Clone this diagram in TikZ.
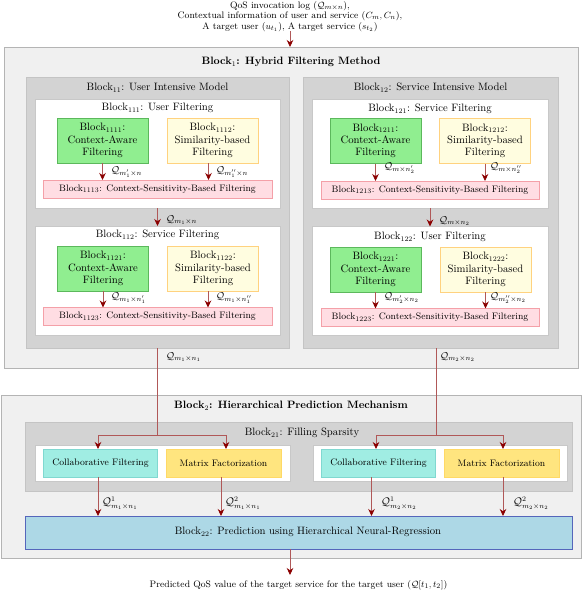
\documentclass[tikz,border=0pt]{standalone}
\usetikzlibrary{arrows.meta}
\definecolor{outerfill}{HTML}{F0F0F0}
\definecolor{outerdraw}{HTML}{B4B4B4}
\definecolor{midfill}{HTML}{D3D3D3}
\definecolor{middraw}{HTML}{C4C4C4}
\definecolor{innerdraw}{HTML}{C8C8C8}
\definecolor{greenfill}{HTML}{90EE90}
\definecolor{greendraw}{HTML}{5CB85C}
\definecolor{yelfill}{HTML}{FFFDE0}
\definecolor{yeldraw}{HTML}{FFD27F}
\definecolor{pinkfill}{HTML}{FFDDE3}
\definecolor{pinkdraw}{HTML}{F4A0A8}
\definecolor{cyanfill}{HTML}{A0EDE3}
\definecolor{cyandraw}{HTML}{80D8D0}
\definecolor{mffill}{HTML}{FFE57F}
\definecolor{mfdraw}{HTML}{FFD966}
\definecolor{predfill}{HTML}{ADD8E6}
\definecolor{preddraw}{HTML}{5566BB}
\definecolor{arrline}{HTML}{B05858}
\definecolor{arrhead}{HTML}{8B0000}
\newcommand\myfbig{\fontsize{10.7}{12.3}\selectfont}
\newcommand\myfmid{\fontsize{9.4}{10.4}\selectfont}
\newcommand\myflbl{\fontsize{9.6}{11}\selectfont}
\newcommand\myflblb{\fontsize{10.6}{12}\selectfont}
\tikzset{
  box/.style={rectangle, inner sep=0pt, outer sep=0pt},
  outerbox/.style={box, fill=outerfill, draw=outerdraw, line width=1pt},
  midbox/.style={box, fill=midfill, draw=middraw, line width=0.8pt},
  innerbox/.style={box, fill=white, draw=innerdraw, line width=0.8pt},
  greenbox/.style={box, fill=greenfill, draw=greendraw, line width=0.6pt, minimum width=91pt, minimum height=45pt, align=center, font=\myfbig},
  yelbox/.style={box, fill=yelfill, draw=yeldraw, line width=0.6pt, minimum width=91pt, minimum height=45pt, align=center, font=\myfbig},
  pinkbox/.style={box, fill=pinkfill, draw=pinkdraw, line width=0.6pt, minimum height=18pt, font=\myfmid},
  cfbox/.style={box, fill=cyanfill, draw=cyandraw, line width=0.5pt, minimum width=114pt, minimum height=28pt, font=\myfmid},
  mfbox/.style={box, fill=mffill, draw=mfdraw, line width=0.5pt, minimum width=115pt, minimum height=28pt, font=\myfmid},
  predbox/.style={box, fill=predfill, draw=preddraw, line width=0.8pt},
  title/.style={inner sep=0pt, font=\myfbig},
  lbl/.style={inner sep=0pt, anchor=west, font=\myflbl},
  lblb/.style={inner sep=0pt, anchor=west, font=\myflblb},
  arr/.style={draw=arrline, line width=0.8pt, -{Stealth[length=7pt, width=6.5pt, color=arrhead]}},
  ln/.style={draw=arrline, line width=0.8pt},
}
\begin{document}
\begin{tikzpicture}[x=1pt, y=-1pt]
\useasboundingbox (0,0) rectangle (582,592);
% top text
\node[inner sep=0pt, align=center, font=\myfmid, anchor=north] (input) at (290,1)
  {QoS invocation log ($\mathcal{Q}_{m\times n}$),\\
   Contextual information of user and service ($C_m, C_n$),\\
   A target user ($u_{t_1}$), A target service ($s_{t_2}$)};
% Block1
\node[outerbox, minimum width=574pt, minimum height=321pt] (b1) at (291,207.5) {};
\node[title, font=\myfbig\bfseries] (b1t) at (291,62) {Block$_1$: Hybrid Filtering Method};
\coordinate (inbot) at (290,31);
\draw[arr] (inbot) -- (inbot |- b1.north);
% Block11
\node[midbox, minimum width=263pt, minimum height=271pt] (b11) at (157.5,212.5) {};
\node[title] (b11t) at (157.5,88) {Block$_{11}$: User Intensive Model};
\node[innerbox, minimum width=245pt, minimum height=109pt] (b111) at (157.5,153.5) {};
\node[title] (b111t) at (157.5,108) {Block$_{111}$: User Filtering};
\node[greenbox] (b1111) at (102.5,140.5) {Block$_{1111}$:\\Context-Aware\\Filtering};
\node[yelbox] (b1112) at (212.5,140.5) {Block$_{1112}$:\\Similarity-based\\Filtering};
\node[pinkbox, minimum width=229pt] (b1113) at (157.5,189) {Block$_{1113}$: Context-Sensitivity-Based Filtering};
\draw[arr] (b1111.south) -- (b1111.south |- b1113.north);
\draw[arr] ([xshift=-4pt]b1112.south) -- ([xshift=-4pt]b1112.south |- b1113.north);
\node[lbl] (l1) at (111,172) {$\mathcal{Q}_{m'_1\times n}$};
\node[lbl] (l2) at (216,172) {$\mathcal{Q}_{m''_1\times n}$};
\node[innerbox, minimum width=245pt, minimum height=109pt] (b112) at (157.5,280.5) {};
\node[title] (b112t) at (157.5,235) {Block$_{112}$: Service Filtering};
\draw[arr] (b111.south) -- (b112.north);
\node[lbl] (l3) at (166,220) {$\mathcal{Q}_{m_1\times n}$};
\node[greenbox] (b1121) at (103,268.5) {Block$_{1121}$:\\Context-Aware\\Filtering};
\node[yelbox] (b1122) at (213,268.5) {Block$_{1122}$:\\Similarity-based\\Filtering};
\node[pinkbox, minimum width=229pt] (b1123) at (157.5,316.5) {Block$_{1123}$: Context-Sensitivity-Based Filtering};
\draw[arr] (b1121.south) -- (b1121.south |- b1123.north);
\draw[arr] ([xshift=-5pt]b1122.south) -- ([xshift=-5pt]b1122.south |- b1123.north);
\node[lbl] (l4) at (111,298) {$\mathcal{Q}_{m_1\times n'_1}$};
\node[lbl] (l5) at (216,298) {$\mathcal{Q}_{m_1\times n''_1}$};
% Block12
\node[midbox, minimum width=255pt, minimum height=271pt] (b12) at (430.5,212.5) {};
\node[title] (b12t) at (430.5,88) {Block$_{12}$: Service Intensive Model};
\node[innerbox, minimum width=236pt, minimum height=109pt] (b121) at (430,153.5) {};
\node[title] (b121t) at (430,109) {Block$_{121}$: Service Filtering};
\node[greenbox] (b1211) at (375.5,141) {Block$_{1211}$:\\Context-Aware\\Filtering};
\node[yelbox] (b1212) at (485,141) {Block$_{1212}$:\\Similarity-based\\Filtering};
\node[pinkbox, minimum width=218pt] (b1213) at (430,190) {Block$_{1213}$: Context-Sensitivity-Based Filtering};
\draw[arr] (b1211.south) -- (b1211.south |- b1213.north);
\draw[arr] (b1212.south) -- (b1212.south |- b1213.north);
\node[lbl] (r1) at (384,168) {$\mathcal{Q}_{m\times n'_2}$};
\node[lbl] (r2) at (490,168) {$\mathcal{Q}_{m\times n''_2}$};
\node[innerbox, minimum width=236pt, minimum height=109pt] (b122) at (430,281) {};
\node[title] (b122t) at (430,237) {Block$_{122}$: User Filtering};
\draw[arr] (b121.south) -- (b122.north);
\node[lbl] (r3) at (439,221) {$\mathcal{Q}_{m\times n_2}$};
\node[greenbox] (b1221) at (375.5,269.5) {Block$_{1221}$:\\Context-Aware\\Filtering};
\node[yelbox] (b1222) at (485.5,269.5) {Block$_{1222}$:\\Similarity-based\\Filtering};
\node[pinkbox, minimum width=218pt] (b1223) at (430,317.5) {Block$_{1223}$: Context-Sensitivity-Based Filtering};
\draw[arr] (b1221.south) -- (b1221.south |- b1223.north);
\draw[arr] (b1222.south) -- (b1222.south |- b1223.north);
\node[lbl] (r4) at (384,298) {$\mathcal{Q}_{m'_2\times n_2}$};
\node[lbl] (r5) at (490,298) {$\mathcal{Q}_{m''_2\times n_2}$};
% Block2
\node[outerbox, minimum width=580pt, minimum height=163pt] (b2) at (291,476.5) {};
\node[title, font=\myfbig\bfseries] (b2t) at (291,406) {Block$_2$: Hierarchical Prediction Mechanism};
\node[midbox, minimum width=547pt, minimum height=69pt] (b21) at (298.5,456.5) {};
\node[title] (b21t) at (302,433) {Block$_{21}$: Filling Sparsity};
\node[innerbox, minimum width=255pt, minimum height=36pt] (w1) at (162.5,463) {};
\node[innerbox, minimum width=254pt, minimum height=36pt] (w2) at (440,463) {};
\node[cfbox] (cf1) at (100.5,463) {Collaborative Filtering};
\node[mfbox] (mf1) at (223.5,463) {Matrix Factorization};
\node[cfbox] (cf2) at (378.5,463) {Collaborative Filtering};
\node[mfbox] (mf2) at (501.5,463) {Matrix Factorization};
\node[predbox, minimum width=547pt, minimum height=33pt] (b22) at (298.5,532.5) {};
\node[title] (b22t) at (308,532) {Block$_{22}$: Prediction using Hierarchical Neural-Regression};
% connectors from block1 to block2
\coordinate (s1) at (157.5,435);
\coordinate (s2) at (436,435);
\draw[ln] (b11.south) -- (s1);
\draw[arr] (s1) -| ([xshift=-2.5pt]cf1.north);
\draw[arr] (s1) -| ([xshift=2.5pt]mf1.north);
\draw[ln] ([xshift=5.5pt]b12.south) -- (s2);
\draw[arr] (s2) -| ([xshift=-2.5pt]cf2.north);
\draw[arr] (s2) -| ([xshift=1.5pt]mf2.north);
\node[lbl] (q1) at (166,357) {$\mathcal{Q}_{m_1\times n_1}$};
\node[lbl] (q2) at (440,357) {$\mathcal{Q}_{m_2\times n_2}$};
% to block22
\draw[arr] ([xshift=-2.5pt]cf1.south) -- ([xshift=-2.5pt]cf1.south |- b22.north);
\draw[arr] ([xshift=-2.5pt]mf1.south) -- ([xshift=-2.5pt]mf1.south |- b22.north);
\draw[arr] ([xshift=-7pt]cf2.south) -- ([xshift=-7pt]cf2.south |- b22.north);
\draw[arr] ([xshift=1.5pt]mf2.south) -- ([xshift=1.5pt]mf2.south |- b22.north);
\node[lblb] (p1) at (102,503) {$\mathcal{Q}^1_{m_1\times n_1}$};
\node[lblb] (p2) at (225,503) {$\mathcal{Q}^2_{m_1\times n_1}$};
\node[lblb] (p3) at (381,503) {$\mathcal{Q}^1_{m_2\times n_2}$};
\node[lblb] (p4) at (513,503) {$\mathcal{Q}^2_{m_2\times n_2}$};
% output
\node[inner sep=0pt, font=\myfmid] (out) at (298.5,585) {Predicted QoS value of the target service for the target user ($\mathcal{Q}[t_1,t_2]$)};
\coordinate (outtop) at (290,575);
\draw[arr] (b22.south -| outtop) -- (outtop);
\end{tikzpicture}
\end{document}
